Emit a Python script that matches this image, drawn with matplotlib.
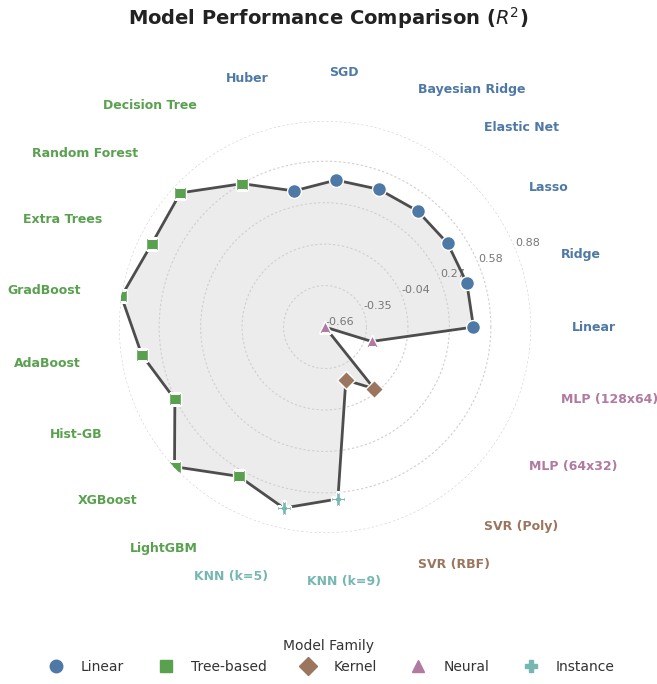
import numpy as np
import matplotlib
matplotlib.use("Agg")
from matplotlib import pyplot as plt
from matplotlib.lines import Line2D

models = ["Linear", "Ridge", "Lasso", "Elastic Net", "Bayesian Ridge", "SGD", "Huber",
          "Decision Tree", "Random Forest", "Extra Trees", "GradBoost", "AdaBoost",
          "Hist-GB", "XGBoost", "LightGBM",
          "KNN (k=5)", "KNN (k=9)",
          "SVR (RBF)", "SVR (Poly)",
          "MLP (64x32)", "MLP (128x64)"]
families = ["Linear"] * 7 + ["Tree-based"] * 8 + ["Instance"] * 2 + ["Kernel"] * 2 + ["Neural"] * 2
r2 = [0.45, 0.45, 0.45, 0.45, 0.446, 0.442, 0.384,
      0.578, 0.815, 0.777, 0.88, 0.726, 0.586, 0.875, 0.629,
      0.728, 0.629,
      -0.234, -0.07,
      -0.66, -0.295]

family_order = ["Linear", "Tree-based", "Kernel", "Neural", "Instance"]
family_colors = {"Linear": "#4E79A7", "Tree-based": "#59A14F", "Kernel": "#9C755F",
                 "Neural": "#B07AA1", "Instance": "#76B7B2"}
family_markers = {"Linear": "o", "Tree-based": "s", "Kernel": "D", "Neural": "^", "Instance": "P"}

r_ticks = [-0.66, -0.35, -0.04, 0.27, 0.58, 0.88]
r_tick_labels = ["-0.66", "-0.35", "-0.04", "0.27", "0.58", "0.88"]

n = len(models)
angles = np.linspace(0, 2 * np.pi, n, endpoint=False)
rmin, rmax = min(r_ticks), max(r_ticks)

fig = plt.figure(figsize=(6.57, 6.84), dpi=100)
ax = fig.add_axes([0.1812, 0.2207, 0.627, 0.6023], projection="polar")

# closed outline + fill
ang_closed = np.append(angles, angles[0])
val_closed = np.append(r2, r2[0])
ax.fill(ang_closed, val_closed, color="gray", alpha=0.15, zorder=1)
ax.plot(ang_closed, val_closed, color="#4d4d4d", linewidth=2, zorder=2)

# markers per family
fam_arr = np.array(families)
r2_arr = np.array(r2)
for fam in family_order:
    idx = fam_arr == fam
    ms = 10 if family_markers[fam] in ("o", "P") else 9
    ax.plot(angles[idx], r2_arr[idx], linestyle="", marker=family_markers[fam],
            markersize=ms, color=family_colors[fam], markeredgecolor="white",
            markeredgewidth=1, zorder=3)

ax.set_ylim(rmin, rmax)
ax.set_yticks(r_ticks)
ax.set_yticklabels(r_tick_labels, fontsize=8, color="#777777")
ax.set_rlabel_position(22.5)
ax.yaxis.grid(True, linestyle=(0, (2, 2)), color="#cfcfcf", linewidth=0.8)
ax.set_xticks(angles)
ax.set_xticklabels([])
ax.xaxis.grid(False)
ax.spines["polar"].set_visible(False)

# model labels around the circle (pushed a bit further out near top/bottom)
for ang, name, fam in zip(angles, models, families):
    c, s = np.cos(ang), np.sin(ang)
    ha = "left" if c > 0.1 else ("right" if c < -0.1 else "center")
    frac = 1.24 if abs(s) > 0.6 else 1.2
    r_label = rmin + frac * (rmax - rmin)
    ax.text(ang, r_label, name, ha=ha, va="center", fontsize=9, fontweight="bold",
            color=family_colors[fam], clip_on=False)

fig.suptitle(r"Model Performance Comparison ($R^2$)", fontsize=14, fontweight="bold",
             color="#222222", y=0.992, va="top")

handles = [Line2D([], [], linestyle="", marker=family_markers[f], color=family_colors[f],
                  markersize=9, label=f) for f in family_order]
leg = fig.legend(handles=handles, loc="lower center", bbox_to_anchor=(0.5, -0.004), ncol=5,
                 frameon=False, title="Model Family", fontsize=10, title_fontsize=10)
for t in leg.get_texts():
    t.set_color("#333333")
leg.get_title().set_color("#333333")

fig.savefig("out.png", dpi=100)
